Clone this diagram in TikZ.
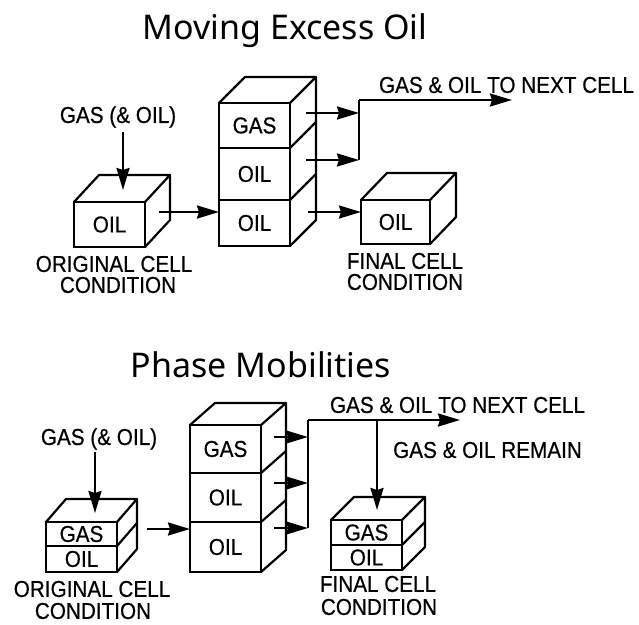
\documentclass[tikz,border=0pt]{standalone}
\usepackage{fontspec}
\setmainfont[FakeStretch=0.9,FakeBold=0.6]{Liberation Sans}
\newfontfamily\titlefont{Noto Sans}
\usetikzlibrary{arrows.meta}
% side and top faces of a cell stack, from its top cell to its bottom cell
\newcommand{\celldepth}[4]{
	\draw[wall] (#1.north west) -- ++(#3,#4) -- ([shift={(#3,#4)}]#1.north east) -- (#1.north east);
	\draw[wall] ([shift={(#3,#4)}]#1.north east) -- ([shift={(#3,#4)}]#2.south east) -- (#2.south east);
}
\begin{document}
\begin{tikzpicture}
	[x=1pt,y=-1pt,
	wall/.style={line width=2.2pt,line join=round},
	flow/.style={line width=2.2pt,-{Stealth[length=22pt,width=13pt,inset=2pt]}},
	bus/.style={line width=2.8pt,line join=round},
	cell/.style={draw,line width=2.2pt,inner sep=0pt,outer sep=0pt,minimum width=71pt,font=\fontsize{23}{23}\selectfont},
	caption/.style={font=\fontsize{23}{23}\selectfont,inner sep=0pt},
	heading/.style={font=\titlefont\fontsize{34}{34}\selectfont,inner sep=0pt}]
	\useasboundingbox (0,0) rectangle (639,624);
	\fill[white] (0,0) rectangle (639,624);

	% upper picture
	\node[heading] (title1) at (285,31) {Moving Excess Oil};
	\node[caption] (feed1) at (118,117) {GAS (\& OIL)};
	\node[cell,minimum height=45pt] (start1) at (109.5,224.5) {OIL};
	\celldepth{start1}{start1}{25}{-27}
	\node[caption] (startA1) at (114,264) {ORIGINAL CELL};
	\node[caption] (startB1) at (118,285) {CONDITION};
	\node[cell,minimum height=45pt] (gas1) at (254.5,125.5) {GAS};
	\node[cell,minimum height=52pt] (oilA1) at (254.5,174) {OIL};
	\node[cell,minimum height=46pt] (oilB1) at (254.5,223) {OIL};
	\celldepth{gas1}{oilB1}{26}{-26}
	\draw[wall] (gas1.south east) -- ++(26,-26);
	\draw[wall] (oilA1.south east) -- ++(26,-26);
	\node[cell,minimum height=44pt,minimum width=69pt] (final1) at (395.5,222) {OIL};
	\celldepth{final1}{final1}{26}{-27}
	\node[caption] (finalA1) at (405,261) {FINAL CELL};
	\node[caption] (finalB1) at (405,282) {CONDITION};
	\node[caption] (next1) at (506.5,85) {GAS \& OIL TO NEXT CELL};
	\coordinate (feedend1) at (123,190);
	\coordinate (outA1) at (306,113);
	\coordinate (outB1) at (306,160);
	\coordinate (outC1) at (308,212);
	\coordinate (busA1) at (359,113);
	\coordinate (busB1) at (359,160);
	\coordinate (busC1) at (359,100);
	\coordinate (nextend1) at (512,100);
	\coordinate (moveA1) at (159,212);
	\draw[flow] (feed1.south -| feedend1) ++(0,4) -- (feedend1);
	\draw[flow] (moveA1) -- (moveA1 -| oilB1.west);
	\draw[flow] (outA1) -- (busA1);
	\draw[flow] (outB1) -- (busB1);
	\draw[flow] (outC1) -- (outC1 -| final1.west);
	\draw[bus] (busB1) -- (busC1);
	\draw[flow] (busC1) -- (nextend1);

	% lower picture
	\node[heading] (title2) at (261,365) {Phase Mobilities};
	\node[caption] (feed2) at (99,439) {GAS (\& OIL)};
	\node[cell,minimum height=24pt] (gasS2) at (81.5,534) {GAS};
	\node[cell,minimum height=26pt] (oilS2) at (81.5,559) {OIL};
	\celldepth{gasS2}{oilS2}{20}{-23}
	\draw[wall] (gasS2.south east) -- ++(20,-23);
	\node[caption] (startA2) at (92,589) {ORIGINAL CELL};
	\node[caption] (startB2) at (93,611) {CONDITION};
	\node[cell,minimum height=48pt] (gas2) at (225.5,449) {GAS};
	\node[cell,minimum height=49pt] (oilA2) at (225.5,497.5) {OIL};
	\node[cell,minimum height=50pt] (oilB2) at (225.5,547) {OIL};
	\celldepth{gas2}{oilB2}{25}{-22}
	\draw[wall] (gas2.south east) -- ++(25,-22);
	\draw[wall] (oilA2.south east) -- ++(25,-22);
	\node[cell,minimum height=25pt] (gasF2) at (366.5,532.5) {GAS};
	\node[cell,minimum height=25pt] (oilF2) at (366.5,557.5) {OIL};
	\celldepth{gasF2}{oilF2}{23}{-23}
	\draw[wall] (gasF2.south east) -- ++(23,-23);
	\node[caption] (finalA2) at (378,584) {FINAL CELL};
	\node[caption] (finalB2) at (379,607) {CONDITION};
	\node[caption] (next2) at (457.5,405) {GAS \& OIL TO NEXT CELL};
	\node[caption] (remain2) at (487.5,450) {GAS \& OIL REMAIN};
	\coordinate (feedend2) at (95,513);
	\coordinate (outA2) at (274,437);
	\coordinate (outB2) at (274,483);
	\coordinate (outC2) at (274,528);
	\coordinate (busA2) at (308,437);
	\coordinate (busB2) at (308,483);
	\coordinate (busC2) at (308,528);
	\coordinate (busD2) at (308,420);
	\coordinate (nextend2) at (460,420);
	\coordinate (split2) at (377,420);
	\coordinate (splitend2) at (377,510);
	\coordinate (moveA2) at (147,529);
	\draw[flow] (feed2.south -| feedend2) ++(0,2) -- (feedend2);
	\draw[flow] (moveA2) -- (moveA2 -| oilB2.west);
	\draw[flow] (outA2) -- (busA2);
	\draw[flow] (outB2) -- (busB2);
	\draw[flow] (outC2) -- (busC2);
	\draw[bus] (busC2) -- (busD2);
	\draw[flow] (busD2) -- (nextend2);
	\draw[flow] (split2) -- (splitend2);
\end{tikzpicture}
\end{document}
